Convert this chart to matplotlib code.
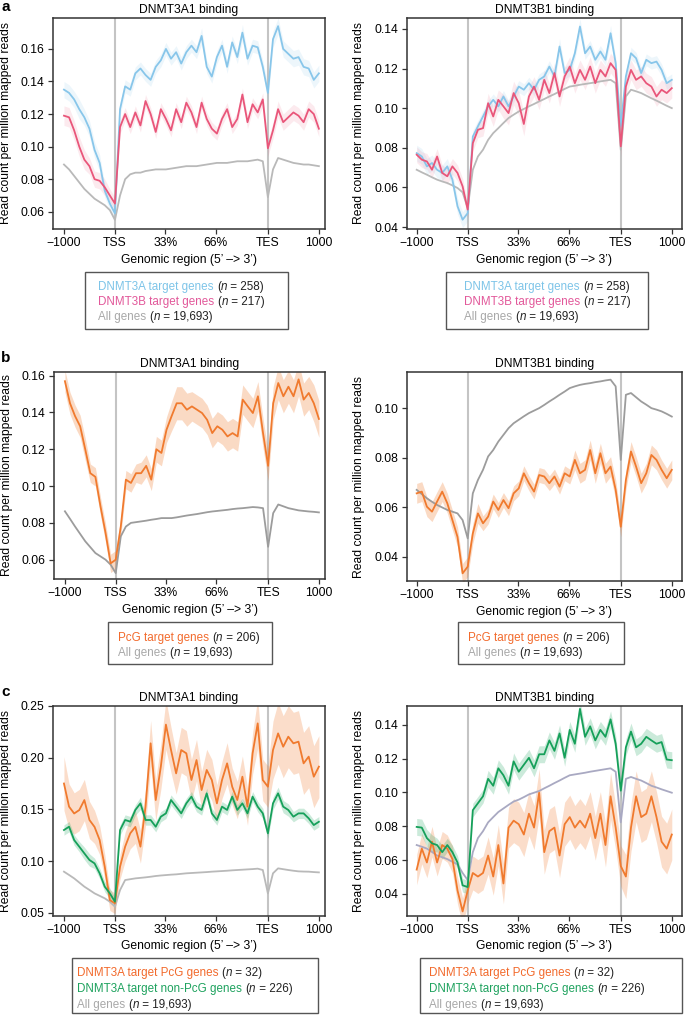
import numpy as np
import matplotlib
matplotlib.use("Agg")
import matplotlib.pyplot as plt
from matplotlib.patches import Rectangle

plt.rcParams['font.family'] = ['Liberation Sans', 'DejaVu Sans']
plt.rcParams['font.size'] = 8.7

W, H = 685, 1015

# bins: 0-20 upstream (-1000..TSS), 20-80 gene body, 80-100 downstream (TES..1000)
pos = np.arange(0, 101, 2)
tick_pos = [0, 20, 39.8, 59.6, 80, 100]
tick_labels = ['\u22121000', 'TSS', '33%', '66%', 'TES', '1000']

# ---- panel a, DNMT3A1 binding ----
a_left_blue = [0.135, 0.133, 0.129, 0.123, 0.118, 0.111, 0.098, 0.090, 0.073, 0.065, 0.059,
               0.123, 0.137, 0.135, 0.145, 0.148, 0.144, 0.141, 0.149, 0.153, 0.160,
               0.154, 0.158, 0.151, 0.158, 0.162, 0.158, 0.168, 0.149, 0.143, 0.155,
               0.162, 0.149, 0.164, 0.155, 0.170, 0.154, 0.162, 0.161, 0.149, 0.133,
               0.166, 0.174, 0.160, 0.157, 0.154, 0.155, 0.149, 0.148, 0.141, 0.145]
a_left_blue_sem = [0.005, 0.005, 0.005, 0.006, 0.005, 0.005, 0.005, 0.005, 0.004, 0.004, 0.004,
                   0.004, 0.004, 0.004, 0.004, 0.004, 0.004, 0.004, 0.004, 0.004, 0.004,
                   0.004, 0.004, 0.004, 0.004, 0.004, 0.004, 0.005, 0.004, 0.004, 0.004,
                   0.004, 0.004, 0.004, 0.004, 0.005, 0.004, 0.004, 0.004, 0.004, 0.005,
                   0.005, 0.005, 0.005, 0.005, 0.005, 0.005, 0.005, 0.005, 0.005, 0.005]
a_left_pink = [0.119, 0.118, 0.110, 0.100, 0.092, 0.088, 0.080, 0.079, 0.075, 0.070, 0.065,
               0.112, 0.120, 0.112, 0.121, 0.113, 0.128, 0.120, 0.109, 0.123, 0.117,
               0.110, 0.123, 0.115, 0.127, 0.121, 0.112, 0.127, 0.117, 0.111, 0.108,
               0.117, 0.123, 0.112, 0.117, 0.132, 0.115, 0.126, 0.121, 0.129, 0.099,
               0.110, 0.123, 0.115, 0.118, 0.121, 0.119, 0.115, 0.123, 0.120, 0.111]
a_left_pink_sem = [0.006, 0.006, 0.006, 0.006, 0.006, 0.005, 0.005, 0.005, 0.005, 0.004, 0.004,
                   0.004, 0.004, 0.004, 0.004, 0.004, 0.004, 0.004, 0.004, 0.004, 0.004,
                   0.004, 0.004, 0.004, 0.004, 0.004, 0.004, 0.004, 0.004, 0.004, 0.004,
                   0.004, 0.004, 0.004, 0.004, 0.004, 0.004, 0.004, 0.004, 0.004, 0.005,
                   0.005, 0.005, 0.005, 0.005, 0.005, 0.005, 0.005, 0.005, 0.005, 0.005]
a_left_gray = [0.089, 0.086, 0.082, 0.078, 0.074, 0.071, 0.068, 0.066, 0.064, 0.061, 0.055,
               0.070, 0.080, 0.083, 0.084, 0.084, 0.085, 0.0855, 0.086, 0.086, 0.086,
               0.0865, 0.087, 0.0875, 0.088, 0.088, 0.088, 0.0885, 0.089, 0.0895, 0.090,
               0.090, 0.090, 0.0905, 0.091, 0.091, 0.091, 0.0915, 0.092, 0.091, 0.069,
               0.086, 0.093, 0.092, 0.091, 0.090, 0.0895, 0.089, 0.089, 0.0885, 0.088]

# ---- panel a, DNMT3B1 binding ----
a_right_blue = [0.0773, 0.0756, 0.0706, 0.0723, 0.0689, 0.0673, 0.0706, 0.0639, 0.0505, 0.0437, 0.047,
                0.0857, 0.0908, 0.0958, 0.1009, 0.1042, 0.1009, 0.1059, 0.1009, 0.1059, 0.1109,
                0.1093, 0.1126, 0.1093, 0.1143, 0.116, 0.121, 0.116, 0.1311, 0.1177, 0.1193,
                0.1277, 0.1412, 0.1277, 0.1311, 0.1244, 0.1286, 0.1244, 0.1378, 0.1227, 0.091,
                0.116, 0.1277, 0.1252, 0.1177, 0.1244, 0.1227, 0.1235, 0.1193, 0.1126, 0.1143]
a_right_blue_sem = [0.004, 0.004, 0.004, 0.004, 0.004, 0.004, 0.004, 0.004, 0.004, 0.004, 0.004,
                    0.003, 0.003, 0.003, 0.003, 0.003, 0.003, 0.003, 0.003, 0.003, 0.003,
                    0.003, 0.003, 0.003, 0.003, 0.003, 0.003, 0.003, 0.004, 0.003, 0.003,
                    0.003, 0.004, 0.003, 0.003, 0.003, 0.003, 0.003, 0.004, 0.003, 0.004,
                    0.003, 0.003, 0.003, 0.003, 0.003, 0.003, 0.003, 0.003, 0.003, 0.003]
a_right_pink = [0.0765, 0.074, 0.0731, 0.0689, 0.0756, 0.0673, 0.0656, 0.0706, 0.0673, 0.0605, 0.0488,
                0.0823, 0.0891, 0.0899, 0.1025, 0.0958, 0.1042, 0.1009, 0.0975, 0.1076, 0.1025,
                0.092, 0.1059, 0.1109, 0.1042, 0.1143, 0.1076, 0.1177, 0.1059, 0.116, 0.121,
                0.1126, 0.1193, 0.1143, 0.121, 0.1126, 0.1193, 0.116, 0.1227, 0.1193, 0.0807,
                0.1109, 0.1193, 0.1143, 0.116, 0.1126, 0.1109, 0.1059, 0.1093, 0.1076, 0.1101]
a_right_pink_sem = [0.004, 0.004, 0.004, 0.004, 0.004, 0.004, 0.004, 0.004, 0.004, 0.004, 0.004,
                    0.004, 0.004, 0.004, 0.005, 0.005, 0.005, 0.006, 0.006, 0.006, 0.006,
                    0.006, 0.005, 0.005, 0.005, 0.005, 0.005, 0.005, 0.005, 0.005, 0.005,
                    0.005, 0.005, 0.005, 0.005, 0.005, 0.005, 0.005, 0.005, 0.005, 0.005,
                    0.005, 0.005, 0.005, 0.005, 0.005, 0.005, 0.005, 0.005, 0.005, 0.005]
a_right_gray = [0.0689, 0.0676, 0.0664, 0.0651, 0.0639, 0.063, 0.0622, 0.061, 0.0597, 0.0575, 0.0496,
                0.0689, 0.0756, 0.079, 0.084, 0.0874, 0.0899, 0.0925, 0.095, 0.0967, 0.0983,
                0.0996, 0.1009, 0.1021, 0.1034, 0.1046, 0.1059, 0.1071, 0.1084, 0.1097, 0.1109,
                0.1113, 0.1118, 0.1122, 0.1126, 0.113, 0.1135, 0.1139, 0.1143, 0.1126, 0.079,
                0.1059, 0.1093, 0.1085, 0.1076, 0.1063, 0.105, 0.1038, 0.1025, 0.1012, 0.100]

# ---- panel b ----
b_left_orange = [0.157, 0.145, 0.138, 0.1325, 0.120, 0.107, 0.105, 0.089, 0.0745, 0.058, 0.060,
                 0.078, 0.1035, 0.1017, 0.107, 0.107, 0.111, 0.1035, 0.120, 0.118, 0.1306,
                 0.138, 0.145, 0.145, 0.1415, 0.1433, 0.1415, 0.1397, 0.136, 0.1288, 0.1325,
                 0.1306, 0.127, 0.1288, 0.127, 0.147, 0.1433, 0.1397, 0.1488, 0.1288, 0.111,
                 0.145, 0.156, 0.1488, 0.154, 0.1488, 0.158, 0.147, 0.1506, 0.145, 0.1365]
b_left_orange_sem = [0.006, 0.006, 0.006, 0.006, 0.006, 0.005, 0.005, 0.005, 0.005, 0.005, 0.005,
                     0.005, 0.005, 0.005, 0.005, 0.006, 0.006, 0.006, 0.007, 0.007, 0.007,
                     0.008, 0.009, 0.009, 0.009, 0.008, 0.008, 0.008, 0.008, 0.008, 0.008,
                     0.008, 0.008, 0.008, 0.008, 0.008, 0.008, 0.008, 0.008, 0.008, 0.008,
                     0.009, 0.009, 0.009, 0.009, 0.009, 0.009, 0.009, 0.009, 0.010, 0.010]
b_left_gray = [0.0863, 0.0822, 0.078, 0.074, 0.070, 0.0668, 0.0636, 0.0618, 0.060, 0.0573, 0.0527,
               0.0727, 0.078, 0.080, 0.0804, 0.0808, 0.0812, 0.0817, 0.0821, 0.0826, 0.0826,
               0.0826, 0.083, 0.0835, 0.084, 0.0844, 0.0848, 0.0853, 0.0858, 0.0862, 0.0865,
               0.0868, 0.0871, 0.0875, 0.0878, 0.088, 0.0883, 0.0886, 0.0884, 0.088, 0.067,
               0.0853, 0.090, 0.089, 0.088, 0.0874, 0.0868, 0.0865, 0.0862, 0.086, 0.0857]

b_right_orange = [0.0656, 0.0663, 0.0602, 0.0582, 0.0623, 0.0663, 0.0616, 0.0548, 0.048, 0.0333, 0.036,
                  0.0494, 0.0575, 0.0535, 0.0562, 0.0623, 0.0589, 0.0629, 0.0596, 0.0656, 0.0676,
                  0.0737, 0.0697, 0.0663, 0.073, 0.0724, 0.0697, 0.0724, 0.0683, 0.0737, 0.0724,
                  0.0791, 0.0737, 0.0751, 0.0831, 0.0737, 0.0818, 0.0737, 0.0764, 0.067, 0.0521,
                  0.071, 0.0825, 0.0764, 0.0697, 0.0737, 0.0811, 0.0791, 0.0751, 0.0717, 0.0751]
b_right_orange_sem = [0.004, 0.004, 0.004, 0.004, 0.004, 0.004, 0.004, 0.004, 0.004, 0.004, 0.004,
                      0.004, 0.004, 0.003, 0.003, 0.003, 0.003, 0.003, 0.003, 0.003, 0.003,
                      0.003, 0.003, 0.003, 0.003, 0.003, 0.003, 0.003, 0.003, 0.003, 0.003,
                      0.004, 0.004, 0.004, 0.004, 0.004, 0.004, 0.004, 0.004, 0.004, 0.004,
                      0.004, 0.004, 0.004, 0.004, 0.004, 0.004, 0.004, 0.004, 0.004, 0.004]
b_right_gray = [0.067, 0.0653, 0.0636, 0.0622, 0.0609, 0.0599, 0.0589, 0.0582, 0.0575, 0.0548, 0.0474,
                0.0656, 0.071, 0.0751, 0.0805, 0.0831, 0.0865, 0.0892, 0.0919, 0.0939, 0.0953,
                0.0967, 0.098, 0.099, 0.100, 0.1013, 0.1027, 0.104, 0.1054, 0.1067, 0.1081,
                0.1088, 0.1094, 0.1098, 0.1101, 0.1105, 0.1108, 0.1112, 0.1115, 0.1088, 0.0791,
                0.1054, 0.1061, 0.1044, 0.1027, 0.1014, 0.100, 0.0994, 0.0987, 0.0977, 0.0966]

# ---- panel c ----
c_left_orange = [0.175, 0.1526, 0.146, 0.1493, 0.159, 0.1397, 0.133, 0.1203, 0.0945, 0.0622, 0.059,
                 0.0945, 0.1139, 0.1268, 0.133, 0.1139, 0.1526, 0.2139, 0.159, 0.1913, 0.232,
                 0.2074, 0.1848, 0.2074, 0.2042, 0.1784, 0.1977, 0.1687, 0.1881, 0.1784, 0.1558,
                 0.1784, 0.1945, 0.1719, 0.159, 0.1816, 0.1526, 0.2042, 0.2332, 0.1784, 0.1719,
                 0.2074, 0.2235, 0.2106, 0.2203, 0.2139, 0.2155, 0.1945, 0.201, 0.1816, 0.1913]
c_left_orange_sem = [0.026, 0.022, 0.020, 0.020, 0.020, 0.018, 0.016, 0.014, 0.012, 0.010, 0.010,
                     0.012, 0.014, 0.015, 0.016, 0.016, 0.018, 0.022, 0.020, 0.022, 0.024,
                     0.022, 0.020, 0.022, 0.022, 0.020, 0.020, 0.018, 0.020, 0.020, 0.018,
                     0.018, 0.020, 0.018, 0.018, 0.020, 0.018, 0.020, 0.024, 0.020, 0.020,
                     0.028, 0.030, 0.030, 0.030, 0.030, 0.030, 0.030, 0.030, 0.030, 0.030]
c_left_green = [0.13, 0.1332, 0.1203, 0.1139, 0.1074, 0.101, 0.0977, 0.0881, 0.0752, 0.0687, 0.0606,
                0.13, 0.1397, 0.1381, 0.1494, 0.1558, 0.1397, 0.1397, 0.1332, 0.1429, 0.1461,
                0.159, 0.1526, 0.1461, 0.1558, 0.1623, 0.1526, 0.1494, 0.1655, 0.1461, 0.1397,
                0.1526, 0.1494, 0.1623, 0.1494, 0.1558, 0.1461, 0.1623, 0.1526, 0.1461, 0.1268,
                0.1558, 0.1655, 0.1526, 0.1494, 0.1429, 0.1461, 0.1461, 0.1413, 0.1348, 0.138]
c_left_green_sem = [0.005, 0.005, 0.005, 0.005, 0.006, 0.006, 0.005, 0.005, 0.005, 0.005, 0.004,
                    0.005, 0.005, 0.005, 0.005, 0.006, 0.005, 0.005, 0.005, 0.005, 0.005,
                    0.005, 0.005, 0.005, 0.005, 0.005, 0.005, 0.005, 0.005, 0.005, 0.005,
                    0.005, 0.005, 0.005, 0.005, 0.005, 0.005, 0.005, 0.005, 0.005, 0.005,
                    0.006, 0.006, 0.006, 0.006, 0.005, 0.005, 0.005, 0.005, 0.005, 0.005]
c_left_gray = [0.0897, 0.0865, 0.0832, 0.0792, 0.0752, 0.072, 0.0687, 0.0663, 0.0639, 0.0606, 0.0558,
               0.0719, 0.0816, 0.0824, 0.0832, 0.0837, 0.0842, 0.0848, 0.0855, 0.086, 0.0864,
               0.0868, 0.0871, 0.0876, 0.0881, 0.0884, 0.0887, 0.089, 0.0893, 0.0897, 0.090,
               0.0903, 0.0906, 0.091, 0.0913, 0.0916, 0.0919, 0.0922, 0.0926, 0.0913, 0.0687,
               0.0881, 0.0929, 0.0921, 0.0913, 0.0906, 0.090, 0.0898, 0.0897, 0.0893, 0.089]

c_right_green = [0.0796, 0.0792, 0.073, 0.0699, 0.0689, 0.0647, 0.0689, 0.0647, 0.0586, 0.0451, 0.0441,
                 0.0895, 0.0936, 0.0977, 0.108, 0.1039, 0.1142, 0.1101, 0.1039, 0.1183, 0.1122,
                 0.1163, 0.1204, 0.1142, 0.1225, 0.1225, 0.1307, 0.1245, 0.1348, 0.1204, 0.1369,
                 0.1287, 0.1493, 0.1328, 0.139, 0.1307, 0.1369, 0.1328, 0.1431, 0.1287, 0.101,
                 0.1266, 0.1359, 0.1266, 0.1287, 0.1328, 0.1307, 0.1287, 0.1297, 0.1194, 0.119]
c_right_green_sem = [0.005, 0.005, 0.005, 0.005, 0.004, 0.004, 0.004, 0.004, 0.004, 0.004, 0.004,
                     0.004, 0.004, 0.004, 0.005, 0.005, 0.005, 0.005, 0.005, 0.005, 0.005,
                     0.005, 0.005, 0.005, 0.005, 0.005, 0.005, 0.005, 0.005, 0.005, 0.005,
                     0.005, 0.005, 0.005, 0.005, 0.005, 0.005, 0.005, 0.005, 0.005, 0.006,
                     0.005, 0.005, 0.005, 0.005, 0.005, 0.005, 0.005, 0.005, 0.005, 0.005]
c_right_orange = [0.0544, 0.0668, 0.0586, 0.0709, 0.0586, 0.0689, 0.0668, 0.0606, 0.0421, 0.0297, 0.0421,
                  0.0524, 0.0503, 0.0524, 0.0627, 0.0503, 0.0689, 0.0462, 0.0792, 0.0833, 0.0812,
                  0.0751, 0.0874, 0.0792, 0.0998, 0.0647, 0.0771, 0.0792, 0.0627, 0.0812, 0.0854,
                  0.0792, 0.0833, 0.0792, 0.0874, 0.073, 0.0874, 0.0689, 0.0977, 0.0792, 0.0565,
                  0.0503, 0.0792, 0.0977, 0.0854, 0.0874, 0.0977, 0.0854, 0.0709, 0.0668, 0.0751]
c_right_orange_sem = [0.009, 0.009, 0.009, 0.009, 0.008, 0.008, 0.008, 0.008, 0.008, 0.008, 0.008,
                      0.010, 0.010, 0.010, 0.011, 0.011, 0.012, 0.012, 0.012, 0.013, 0.013,
                      0.013, 0.013, 0.013, 0.014, 0.013, 0.013, 0.013, 0.013, 0.013, 0.013,
                      0.013, 0.013, 0.013, 0.013, 0.013, 0.013, 0.013, 0.014, 0.013, 0.012,
                      0.013, 0.014, 0.015, 0.015, 0.015, 0.015, 0.015, 0.015, 0.015, 0.015]
c_right_gray = [0.0689, 0.0679, 0.0668, 0.0648, 0.0627, 0.0617, 0.0606, 0.059, 0.0575, 0.0524, 0.0482,
                0.0647, 0.073, 0.0771, 0.0823, 0.0854, 0.0884, 0.0905, 0.0926, 0.0946, 0.0957,
                0.0972, 0.0988, 0.0998, 0.1008, 0.1024, 0.1039, 0.1055, 0.107, 0.1086, 0.1101,
                0.1106, 0.1111, 0.1116, 0.1122, 0.1127, 0.1132, 0.1137, 0.1142, 0.1122, 0.0823,
                0.108, 0.1091, 0.108, 0.107, 0.1055, 0.1039, 0.1029, 0.1018, 0.1008, 0.0998]

# y ticks per panel
a_left_yticks = [0.06, 0.08, 0.10, 0.12, 0.14, 0.16]
a_right_yticks = [0.04, 0.06, 0.08, 0.10, 0.12, 0.14]
b_left_yticks = [0.06, 0.08, 0.10, 0.12, 0.14, 0.16]
b_right_yticks = [0.04, 0.06, 0.08, 0.10]
c_left_yticks = [0.05, 0.10, 0.15, 0.20, 0.25]
c_right_yticks = [0.04, 0.06, 0.08, 0.10, 0.12, 0.14]

# legend labels
n_3a, n_3b, n_all, n_pcg = '258', '217', '19,693', '206'
n_pcg3a, n_nonpcg3a = '32', '226'

# colours
BLUE, PINK = '#88c6ea', '#e9567a'
ORANGE, GREEN = '#f07a2e', '#16a05a'
GRAY_A, GRAY_B, GRAY_C = '#b9b9b9', '#9c9c9c', '#a9a9c2'
VLINE = '#c4c4c4'

fig = plt.figure(figsize=(W / 100, H / 100), dpi=100)
renderer = fig.canvas.get_renderer()


def px_axes(left, top, right, bottom):
    return fig.add_axes([left / W, 1 - bottom / H, (right - left) / W, (bottom - top) / H])


def draw_panel(ax, title, lines, ylim, yticks, xlim):
    ax.axvline(20, color=VLINE, lw=1.5, zorder=1)
    ax.axvline(80, color=VLINE, lw=1.5, zorder=1)
    for vals, sem, color, alpha in lines:
        vals = np.array(vals)
        if sem is not None:
            sem = np.array(sem)
            ax.fill_between(pos, vals - sem, vals + sem, color=color, alpha=alpha, lw=0, zorder=2)
        ax.plot(pos, vals, color=color, lw=1.3, zorder=3)
    ax.set_xlim(*xlim)
    ax.set_ylim(*ylim)
    ax.set_xticks(tick_pos)
    ax.set_xticklabels(tick_labels)
    ax.set_yticks(yticks)
    ax.set_yticklabels(['%.2f' % v for v in yticks])
    ax.tick_params(length=3.5, width=0.9, pad=2.5, color='#333333')
    for s in ax.spines.values():
        s.set_color('#333333')
        s.set_linewidth(1.1)
    ax.set_title(title, pad=3.5, fontsize=8.7)
    ax.set_xlabel('Genomic region (5\u2019 \u2013> 3\u2019)', labelpad=3)
    ax.set_ylabel('Read count per million mapped reads')
    ax.yaxis.set_label_coords(-0.151, 0.5)


def text_run(x, y, pieces, size):
    # pieces of (string, colour, style) placed one after the other on a baseline
    for s, color, style in pieces:
        t = fig.text(x / W, 1 - y / H, s, color=color, style=style, va='baseline', fontsize=size)
        x += t.get_window_extent(renderer).width


def legend_box(box, tx, rows):
    x0, y0, x1, y1 = box
    fig.patches.append(Rectangle((x0 / W, 1 - y1 / H), (x1 - x0) / W, (y1 - y0) / H,
                                 transform=fig.transFigure, fill=False, ec='#555555', lw=1.0))
    for label, color, n, yc in rows:
        text_run(tx, yc + 4, [(label + ' ', color, 'normal'), ('(', '#222222', 'normal'),
                              ('n', '#222222', 'italic'), (' = ' + n + ')', '#222222', 'normal')],
                 8.4)


XL = (-4.3, 102.4)
XR = (-3.8, 104.0)

ax = px_axes(53, 18, 325, 229)
draw_panel(ax, 'DNMT3A1 binding',
           [(a_left_gray, None, GRAY_A, 0), (a_left_blue, a_left_blue_sem, BLUE, 0.15),
            (a_left_pink, a_left_pink_sem, PINK, 0.12)],
           (0.0494, 0.179), a_left_yticks, XL)
ax = px_axes(407, 18, 682, 229)
draw_panel(ax, 'DNMT3B1 binding',
           [(a_right_gray, None, GRAY_A, 0), (a_right_blue, a_right_blue_sem, BLUE, 0.15),
            (a_right_pink, a_right_pink_sem, PINK, 0.12)],
           (0.039, 0.1455), a_right_yticks, XR)

ax = px_axes(54, 372, 325, 579)
draw_panel(ax, 'DNMT3A1 binding',
           [(b_left_gray, None, GRAY_B, 0), (b_left_orange, b_left_orange_sem, ORANGE, 0.28)],
           (0.0495, 0.162), b_left_yticks, XL)
ax = px_axes(407, 372, 682, 581)
draw_panel(ax, 'DNMT3B1 binding',
           [(b_right_gray, None, GRAY_B, 0), (b_right_orange, b_right_orange_sem, ORANGE, 0.28)],
           (0.0302, 0.1146), b_right_yticks, XR)

ax = px_axes(53, 706, 325, 916)
draw_panel(ax, 'DNMT3A1 binding',
           [(c_left_gray, None, GRAY_A, 0), (c_left_orange, c_left_orange_sem, ORANGE, 0.25),
            (c_left_green, c_left_green_sem, GREEN, 0.22)],
           (0.0468, 0.25), c_left_yticks, XL)
ax = px_axes(407, 706, 682, 916)
draw_panel(ax, 'DNMT3B1 binding',
           [(c_right_gray, None, GRAY_C, 0), (c_right_orange, c_right_orange_sem, ORANGE, 0.25),
            (c_right_green, c_right_green_sem, GREEN, 0.22)],
           (0.027, 0.151), c_right_yticks, XR)

# panel letters
for letter, y in [('a', 7), ('b', 358), ('c', 692)]:
    fig.text(1 / W, 1 - y / H, letter, fontsize=11, fontweight='bold', va='center')

# legends
BLUE_T, PINK_T, GRAY_T = '#7dc4e8', '#e2589a', '#a8a8a8'
ORANGE_T, GREEN_T = '#f26a2c', '#1ea25e'
for box, tx in [((85, 272, 288, 329), 98), ((446, 272, 648, 329), 464)]:
    legend_box(box, tx, [('DNMT3A target genes', BLUE_T, n_3a, 286),
                         ('DNMT3B target genes', PINK_T, n_3b, 301),
                         ('All genes', GRAY_T, n_all, 316)])
for box, tx in [((108, 622, 272, 664), 118), ((458, 622, 624, 664), 468)]:
    legend_box(box, tx, [('PcG target genes', ORANGE_T, n_pcg, 637),
                         ('All genes', GRAY_T, n_all, 652)])
for box, tx in [((72, 958, 318, 1013), 77), ((420, 958, 682, 1013), 429)]:
    legend_box(box, tx, [('DNMT3A target PcG genes', ORANGE_T, n_pcg3a, 972),
                         ('DNMT3A target non-PcG genes', GREEN_T, n_nonpcg3a, 988),
                         ('All genes', GRAY_T, n_all, 1004)])

fig.savefig('out.png', dpi=100)
